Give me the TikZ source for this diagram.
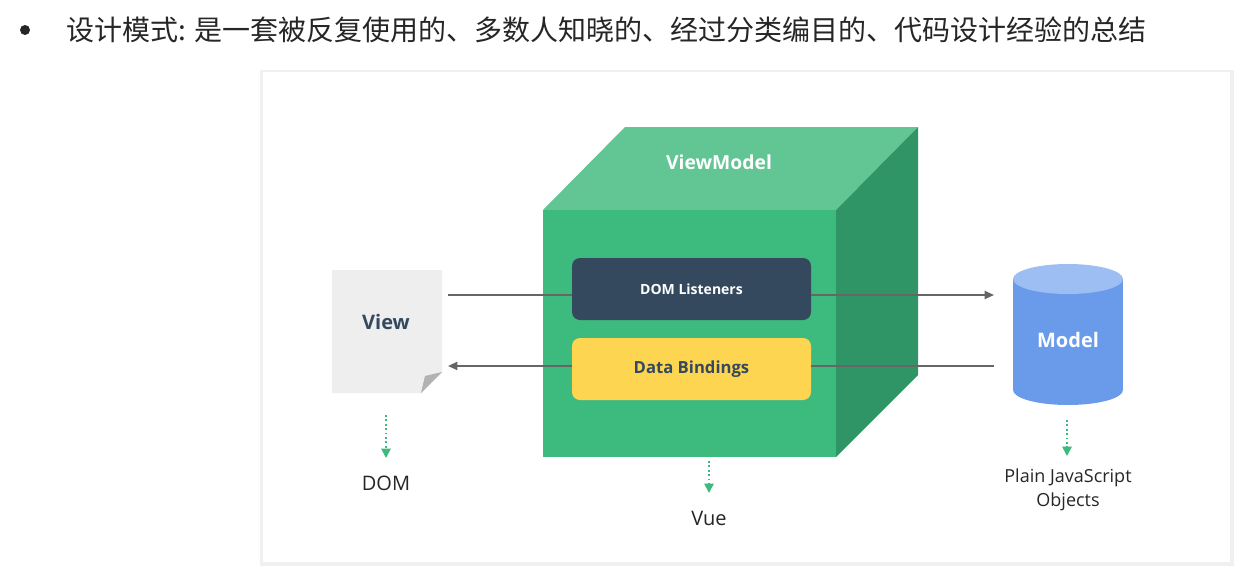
\documentclass[tikz,border=0pt]{standalone}
\usepackage{fontspec}
\setmainfont{Open Sans}
\newfontfamily\cjk{Noto Sans CJK SC}
\usetikzlibrary{arrows.meta,shapes.geometric}
\definecolor{gfront}{HTML}{3DBA7E}
\definecolor{gtop}{HTML}{62C594}
\definecolor{gside}{HTML}{2F9566}
\definecolor{navy}{HTML}{34495E}
\definecolor{yel}{HTML}{FDD550}
\definecolor{blu}{HTML}{6A9BEA}
\definecolor{blutop}{HTML}{9DBEF2}
\definecolor{paper}{HTML}{EEEEEE}
\definecolor{arr}{HTML}{666666}
\definecolor{dotg}{HTML}{3DBA7E}
\begin{document}
\begin{tikzpicture}[x=0.75pt,y=-0.75pt,
  lbl/.style={font=\fontsize{15}{18}\selectfont, text=black!85},
  box/.style={rounded corners=6pt, minimum width=179.25pt, minimum height=46.5pt, inner sep=0pt},
  flow/.style={arr, line width=1.4pt, -{Triangle[length=7pt,width=6pt]}},
  dots/.style={dotg, line width=1.3pt, dotted, -{Triangle[length=7pt,width=7pt,fill=dotg]}}]
\useasboundingbox (0,0) rectangle (1243,568);
\fill[white] (0,0) rectangle (1243,568);
% panel
\fill[black!6] (260,70) rectangle (1234,566);
\fill[white] (263,72) rectangle (1230,562);
% title
\fill[black!85] (25,30) circle (5);
\node[anchor=west, inner sep=0pt, font=\cjk\fontsize{21}{24}\selectfont, text=black!85] (title) at (66,30) {设计模式: 是一套被反复使用的、多数人知晓的、经过分类编目的、代码设计经验的总结};
% cube
\fill[gtop] (543,210) -- (625,127) -- (918,127) -- (836,210) -- cycle;
\fill[gside] (836,210) -- (918,127) -- (918,375) -- (836,457) -- cycle;
\fill[gfront] (543,210) rectangle (836,457);
\node[font=\bfseries\fontsize{14.5}{18}\selectfont, text=white] (vm) at (719,162) {ViewModel};
% view paper
\fill[paper] (332,270) -- (442,270) -- (442,372) -- (421,393) -- (332,393) -- cycle;
\fill[black!30] (442,372) -- (421,393) -- (425,376) -- cycle;
\node[font=\bfseries\fontsize{15}{18}\selectfont, text=navy] (view) at (386,322) {View};
\coordinate (vr1) at (448,295);
\coordinate (vr2) at (448,366);
% cylinder
\fill[blu] (1013,279) rectangle (1123,390);
\fill[blu] (1068,390) ellipse (55 and 15);
\fill[blutop] (1068,279) ellipse (55 and 15);
\node[font=\bfseries\fontsize{15}{18}\selectfont, text=white] (model) at (1068,340) {Model};
\coordinate (ml1) at (994,295);
\coordinate (ml2) at (994,366);
% inner boxes
\node[box, fill=navy, text=white, font=\bfseries\fontsize{10.5}{13}\selectfont] (dl) at (691.5,289) {DOM Listeners};
\node[box, fill=yel, text=navy, font=\bfseries\fontsize{12.5}{15}\selectfont] (db) at (691.5,369) {Data Bindings};
% arrows
\draw[arr, line width=1.4pt] (vr1) -- (dl.west |- vr1);
\draw[flow] (dl.east |- vr1) -- (ml1);
\draw[arr, line width=1.4pt] (ml2) -- (db.east |- ml2);
\draw[flow] (db.west |- vr2) -- (vr2);
% bottom labels
\node[lbl] (dom) at (386,483) {DOM};
\node[lbl] (vue) at (709,518) {Vue};
\node[lbl, align=center, font=\fontsize{13.5}{18}\selectfont] (pjo) at (1068,490) {Plain JavaScript\\Objects};
\coordinate (d0) at (386,415);
\coordinate (v0) at (709,461);
\coordinate (m0) at (1067,420);
\draw[dots] (d0) -- (386,458);
\draw[dots] (v0) -- (709,493);
\draw[dots] (m0) -- (1067,456);
\end{tikzpicture}
\end{document}
